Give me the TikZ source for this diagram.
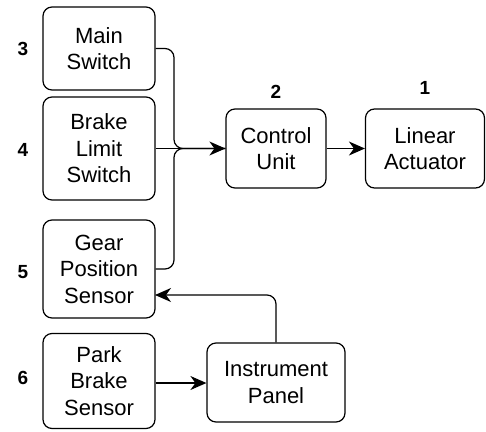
\documentclass[tikz,border=0pt]{standalone}
\usepackage{fontspec}
\setmainfont{Liberation Sans}
\usetikzlibrary{arrows.meta}

\tikzset{
  block/.style={draw, line width=1.2pt, rounded corners=9pt, align=center,
    inner sep=0pt, font=\fontsize{22}{26.5}\selectfont},
  num/.style={font=\bfseries\fontsize{19}{21}\selectfont, inner sep=0pt},
  link/.style={line width=1.2pt},
  headed/.style={line width=1.2pt, -{Stealth[length=16pt,width=14pt,inset=5pt]}}
}

\begin{document}
\begin{tikzpicture}[x=1pt,y=-1pt]
\useasboundingbox (0,0) rectangle (486,431);

% left column of inputs
\node[block, minimum width=112pt, minimum height=83pt] (ms) at (99,48.5) {Main\\Switch};
\node[block, minimum width=112pt, minimum height=103pt] (bl) at (99,148.5) {Brake\\Limit\\Switch};
\node[block, minimum width=112pt, minimum height=98pt] (gp) at (99,269) {Gear\\Position\\Sensor};
\node[block, minimum width=112pt, minimum height=95pt] (pb) at (99,381) {Park\\Brake\\Sensor};

% controller, actuator and panel
\node[block, minimum width=100pt, minimum height=79pt] (cu) at (276,148.5) {Control\\Unit};
\node[block, minimum width=119pt, minimum height=79pt] (la) at (425,148.5) {Linear\\Actuator};
\node[block, minimum width=138pt, minimum height=79pt] (ip) at (276,382.5) {Instrument\\Panel};

% numbering
\node[num] (n3) at (23,49) {3};
\node[num] (n4) at (23,150) {4};
\node[num] (n5) at (23,272) {5};
\node[num] (n6) at (23,378) {6};
\node[num] (n2) at (276,92) {2};
\node[num] (n1) at (425,88) {1};

% connectors
\coordinate (jx) at (174,0);
\draw[link, rounded corners=9pt] (ms.east) -- (ms.east -| jx) -- (jx |- cu.west) -- (cu.west);
\draw[link, rounded corners=9pt] (gp.east) -- (gp.east -| jx) -- (jx |- cu.west) -- (cu.west);
\draw[headed] (bl.east |- cu.west) -- (cu.west);
\draw[headed] (cu.east) -- (la.west);
\coordinate (gpin) at (155,295);
\draw[headed] (ip.north) {[rounded corners=9pt] -- (ip.north |- gpin) -- (gpin)};
\draw[headed] (pb.east |- 0,383) -- (ip.west |- 0,383);
\end{tikzpicture}
\end{document}
